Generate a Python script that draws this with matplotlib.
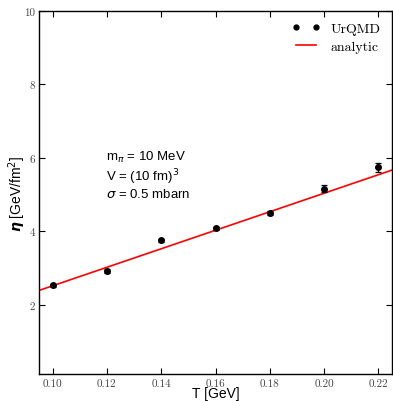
import numpy as np
import matplotlib
matplotlib.use("Agg")
import matplotlib.pyplot as plt
from matplotlib.lines import Line2D

# ---- UrQMD shear viscosity vs temperature ----
T = [0.10, 0.12, 0.14, 0.16, 0.18, 0.20, 0.22]
eta = [2.54, 2.93, 3.76, 4.09, 4.50, 5.16, 5.75]
eta_err = [0.04, 0.05, 0.04, 0.04, 0.05, 0.10, 0.12]

# analytic curve: eta = c * T
T_line = [0.095, 0.225]
c_analytic = 25.2  # GeV/fm^2 per GeV

xticks = [0.10, 0.12, 0.14, 0.16, 0.18, 0.20, 0.22]
yticks = [2, 4, 6, 8, 10]

fig = plt.figure(figsize=(3.93, 4.02), dpi=100)
ax = fig.add_axes([0.0992, 0.0672, 0.8983, 0.903])

ax.plot(T_line, [c_analytic * t for t in T_line], color="red", lw=1.2, zorder=2)
ax.errorbar(T, eta, yerr=eta_err, fmt="o", color="black", ms=4,
            elinewidth=0.9, capsize=2, capthick=0.9, zorder=3)

ax.set_xlim(0.095, 0.225)
ax.set_ylim(0.12, 10)
ax.set_xticks(xticks)
ax.set_yticks(yticks)
ax.set_xticklabels([f"{v:.2f}" for v in xticks], fontfamily="cmr10", fontsize=8, color="#444444")
ax.set_yticklabels([str(v) for v in yticks], fontfamily="cmr10", fontsize=8, color="#444444")
ax.tick_params(direction="in", top=True, right=True, length=4, width=0.8, pad=3)
for s in ax.spines.values():
    s.set_linewidth(1.0)

ax.set_xlabel("T [GeV]", fontfamily="Liberation Sans", fontsize=10, labelpad=-1)
ax.set_ylabel(r"$\boldsymbol{\eta}$ [GeV/fm$^2$]", fontfamily="Liberation Sans", fontsize=10, labelpad=-3)

ax.text(0.1195, 6.25, "m$_\\pi$ = 10 MeV\nV = (10 fm)$^3$\n$\\sigma$ = 0.5 mbarn",
        fontfamily="Liberation Sans", fontsize=9.5, va="top", ha="left", linespacing=1.15)

handles = [Line2D([], [], ls="none", marker="o", ms=3.5, color="black"),
           Line2D([], [], color="red", lw=1.2)]
ax.legend(handles, ["UrQMD", "analytic"], loc="upper right", frameon=False,
          numpoints=2, prop={"family": "cmr10", "size": 10},
          handlelength=2.0, borderaxespad=0.4, labelspacing=0.4)

fig.savefig("out.png", dpi=100)
